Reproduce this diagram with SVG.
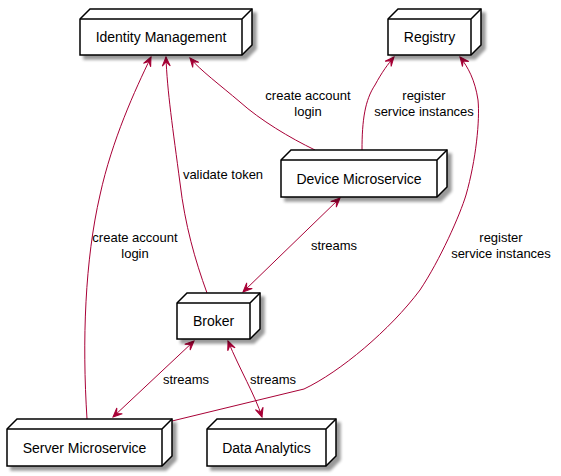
<svg xmlns="http://www.w3.org/2000/svg" width="561" height="476" viewBox="0 0 561 476">
<style>
.nf{fill:#ffffff;stroke:#000000;stroke-width:1.5;filter:url(#sh)}
.nl{fill:none;stroke:#000000;stroke-width:1.5}
.nt{font-family:"Liberation Sans",Arial,sans-serif;font-size:14px;fill:#000000;text-anchor:middle}
.e{fill:none;stroke:#A80036;stroke-width:1}
.ea{marker-end:url(#ah)}
.eb{marker-start:url(#ah);marker-end:url(#ah)}
.lt{font-family:"Liberation Sans",Arial,sans-serif;font-size:13px;fill:#000000;text-anchor:middle}
</style>
<defs>
<filter id="sh" x="-10%" y="-20%" width="130%" height="150%">
<feGaussianBlur in="SourceAlpha" stdDeviation="1.5"/>
<feOffset dx="4" dy="4" result="b"/>
<feComponentTransfer><feFuncA type="linear" slope="0.4"/></feComponentTransfer>
<feMerge><feMergeNode/><feMergeNode in="SourceGraphic"/></feMerge>
</filter>
<marker id="ah" viewBox="-10 -5 11 10" refX="0" refY="0" markerWidth="11" markerHeight="10" markerUnits="userSpaceOnUse" orient="auto-start-reverse">
<path d="M0,0 L-9,-4 L-5,0 L-9,4 Z" fill="#A80036" stroke="#A80036" stroke-width="1"/>
</marker>
</defs>
<g id="connectors">
<path class="e ea" d="M87,419 C82,340 85,260 100,195 C112,140 135,90 151,57"/>
<path class="e ea" d="M207,293 C195,260 185,225 180,183 C173,130 167,90 166,57"/>
<path class="e ea" d="M315,150 C290,138 260,120 240,102 C220,85 200,70 190,58"/>
<path class="e ea" d="M362,150 C362,120 365,100 375,85 C382,72 388,64 394,57"/>
<path class="e ea" d="M172,421 L304,389 C340,372 390,330 420,290 C440,260 460,215 466,195 C476,160 480,120 478,100 C475,80 468,67 460,57"/>
<path class="e eb" d="M243,292 L340,198"/>
<path class="e eb" d="M194,341 L113,417"/>
<path class="e eb" d="M228,341 C240,370 255,395 262,417"/>
<text class="lt" x="135" y="242">create account</text>
<text class="lt" x="135" y="258">login</text>
<text class="lt" x="223" y="179">validate token</text>
<text class="lt" x="308" y="100">create account</text>
<text class="lt" x="308" y="116">login</text>
<text class="lt" x="424" y="100">register</text>
<text class="lt" x="424" y="116">service instances</text>
<text class="lt" x="501" y="242">register</text>
<text class="lt" x="501" y="258">service instances</text>
<text class="lt" x="334" y="250">streams</text>
<text class="lt" x="186" y="384">streams</text>
<text class="lt" x="273" y="384">streams</text>
</g>
<g id="identity">
<path class="nf" d="M80,19 L90,9 L252,9 L252,45 L242,55 L80,55 Z"/>
<path class="nl" d="M80,19 L242,19 L252,9 M242,19 L242,55"/>
<text class="nt" x="161" y="42">Identity Management</text>
</g>
<g id="registry">
<path class="nf" d="M388,19 L398,9 L481,9 L481,45 L471,55 L388,55 Z"/>
<path class="nl" d="M388,19 L471,19 L481,9 M471,19 L471,55"/>
<text class="nt" x="429.5" y="42">Registry</text>
</g>
<g id="device">
<path class="nf" d="M281,160 L291,150 L447,150 L447,187 L437,197 L281,197 Z"/>
<path class="nl" d="M281,160 L437,160 L447,150 M437,160 L437,197"/>
<text class="nt" x="359" y="183.5">Device Microservice</text>
</g>
<g id="broker">
<path class="nf" d="M177,303 L187,293 L260,293 L260,329 L250,339 L177,339 Z"/>
<path class="nl" d="M177,303 L250,303 L260,293 M250,303 L250,339"/>
<text class="nt" x="213.5" y="326">Broker</text>
</g>
<g id="server">
<path class="nf" d="M7,429 L17,419 L172,419 L172,456 L162,466 L7,466 Z"/>
<path class="nl" d="M7,429 L162,429 L172,419 M162,429 L162,466"/>
<text class="nt" x="84.5" y="452.5">Server Microservice</text>
</g>
<g id="analytics">
<path class="nf" d="M207,429 L217,419 L336,419 L336,456 L326,466 L207,466 Z"/>
<path class="nl" d="M207,429 L326,429 L336,419 M326,429 L326,466"/>
<text class="nt" x="266.5" y="452.5">Data Analytics</text>
</g>
</svg>
